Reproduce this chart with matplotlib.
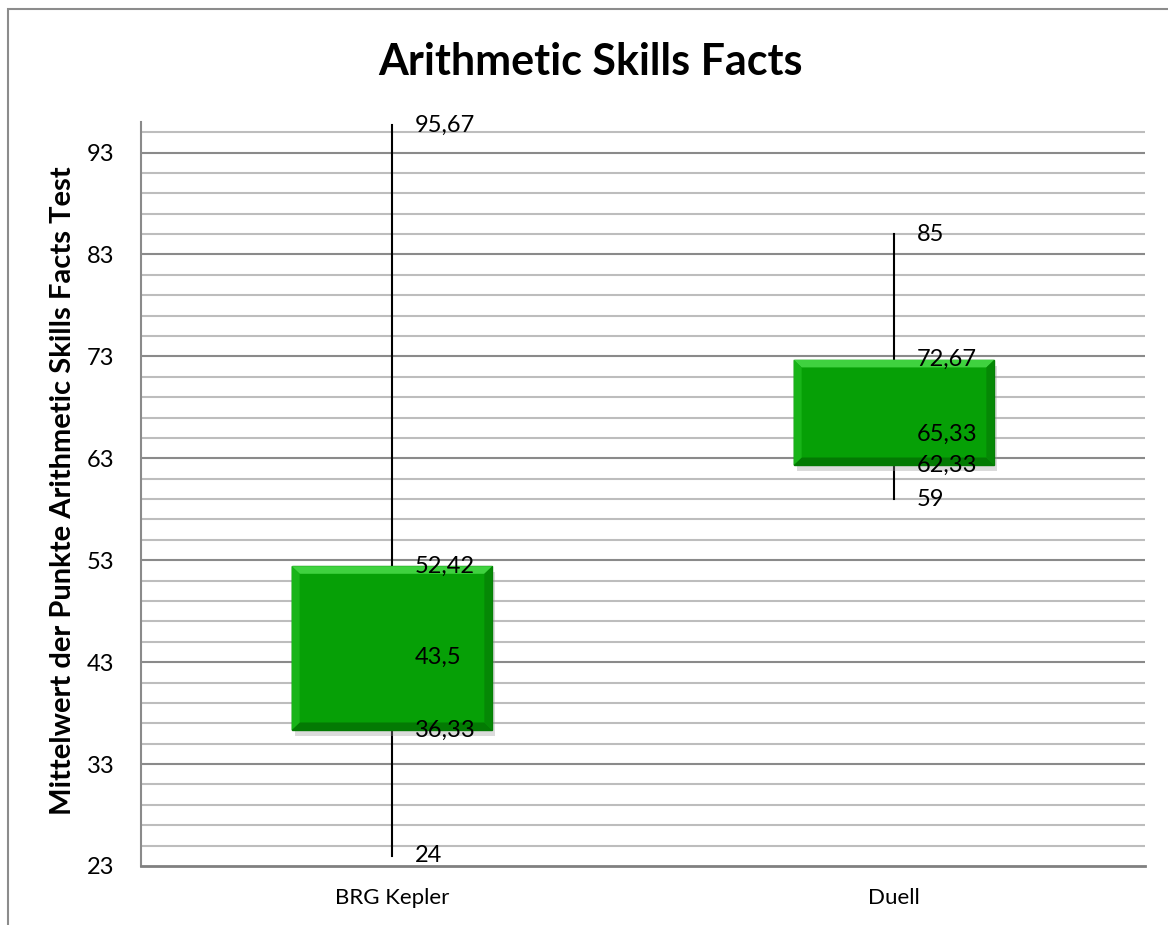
import matplotlib
matplotlib.use('Agg')
import matplotlib.pyplot as plt
from matplotlib.patches import Rectangle, Polygon

plt.rcParams['font.family'] = ['Lato', 'DejaVu Sans']

# Data (Excel stock chart: high / close(Q3) / median / open(Q1) / low)
groups = ['BRG Kepler', 'Duell']
highs = [95.67, 85]
q3s = [52.42, 72.67]
medians = [43.5, 65.33]
q1s = [36.33, 62.33]
lows = [24, 59]

y_ticks = [23, 33, 43, 53, 63, 73, 83, 93]


def fmt(v):
    return f"{v:g}".replace('.', ',')


fig = plt.figure(figsize=(11.68, 9.25), dpi=100)
# outer chart border (left + top visible)
fig.add_artist(Rectangle((8 / 1168, -0.01), 1.2, 1 - 9 / 925 + 0.01,
                         transform=fig.transFigure, fill=False,
                         edgecolor='#8c8c8c', linewidth=1.5))

ax = fig.add_axes([141 / 1168, 1 - 866 / 925, (1145 - 141) / 1168, (866 - 122) / 925])
ax.set_xlim(0, 2)
ax.set_ylim(23, 96)

# gridlines
for y in range(25, 96, 2):
    major = (y - 23) % 10 == 0
    ax.axhline(y, color='#8a8a8a' if major else '#bdbdbd', linewidth=1.5, zorder=1)

xs = [0.5, 1.5]
bw = 0.4
for x, hi, q3, med, q1, lo in zip(xs, highs, q3s, medians, q1s, lows):
    # high-low line
    ax.plot([x, x], [lo, hi], color='black', linewidth=1.5, zorder=2)
    # shadow
    ax.add_patch(Rectangle((x - bw / 2 + 0.006, q1 - 0.6), bw, q3 - q1,
                           facecolor='#999999', alpha=0.35, edgecolor='none', zorder=3))
    # box
    ax.add_patch(Rectangle((x - bw / 2, q1), bw, q3 - q1,
                           facecolor='#06a006', edgecolor='#047a04', linewidth=1, zorder=4))
    # bevel edges
    bx, by = 0.016, 0.75
    l, r = x - bw / 2, x + bw / 2
    ax.add_patch(Polygon([(l, q3), (r, q3), (r - bx, q3 - by), (l + bx, q3 - by)],
                         closed=True, facecolor='#3fd23f', edgecolor='none', zorder=5))
    ax.add_patch(Polygon([(l, q1), (r, q1), (r - bx, q1 + by), (l + bx, q1 + by)],
                         closed=True, facecolor='#037a03', edgecolor='none', zorder=5))
    ax.add_patch(Polygon([(l, q1), (l, q3), (l + bx, q3 - by), (l + bx, q1 + by)],
                         closed=True, facecolor='#18b418', edgecolor='none', zorder=5))
    ax.add_patch(Polygon([(r, q1), (r, q3), (r - bx, q3 - by), (r - bx, q1 + by)],
                         closed=True, facecolor='#058805', edgecolor='none', zorder=5))
    # value labels
    for v in (hi, q3, med, q1, lo):
        ax.text(x + 0.046, v, fmt(v), ha='left', va='center', fontsize=17,
                color='black', zorder=6)

ax.set_xticks(xs)
ax.set_xticklabels(groups, fontsize=16)
ax.set_yticks(y_ticks)
ax.set_yticklabels([str(t) for t in y_ticks], fontsize=17)
ax.tick_params(axis='both', length=0)
ax.tick_params(axis='y', pad=19)
ax.tick_params(axis='x', pad=16)

for s in ['top', 'right']:
    ax.spines[s].set_visible(False)
ax.spines['left'].set_color('#8a8a8a')
ax.spines['left'].set_linewidth(1.5)
ax.spines['bottom'].set_color('#808080')
ax.spines['bottom'].set_linewidth(2)

ax.set_ylabel('Mittelwert der Punkte Arithmetic Skills Facts Test',
              fontsize=21, fontweight='bold')
ax.yaxis.set_label_coords(-0.065, 0.505)
fig.text(590 / 1168, 1 - 62 / 925, 'Arithmetic Skills Facts', ha='center', va='center',
         fontsize=31, fontweight='bold')

fig.savefig('out.png', dpi=100)
